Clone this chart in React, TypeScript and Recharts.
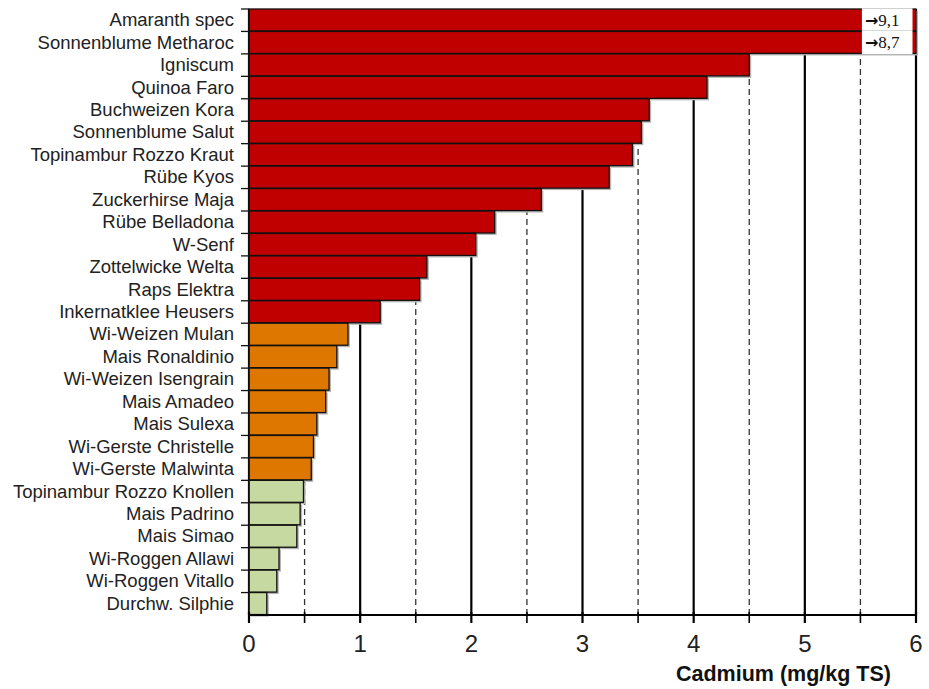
import { Bar, BarChart, CartesianGrid, XAxis, YAxis } from "recharts";

// Cd-Gehalte je Kultur/Sorte (mg/kg TS), sortiert absteigend.
const CATEGORIES = [
  "Amaranth spec",
  "Sonnenblume Metharoc",
  "Igniscum",
  "Quinoa Faro",
  "Buchweizen Kora",
  "Sonnenblume Salut",
  "Topinambur Rozzo Kraut",
  "Rübe Kyos",
  "Zuckerhirse Maja",
  "Rübe Belladona",
  "W-Senf",
  "Zottelwicke Welta",
  "Raps Elektra",
  "Inkernatklee Heusers",
  "Wi-Weizen Mulan",
  "Mais Ronaldinio",
  "Wi-Weizen Isengrain",
  "Mais Amadeo",
  "Mais Sulexa",
  "Wi-Gerste Christelle",
  "Wi-Gerste Malwinta",
  "Topinambur Rozzo Knollen",
  "Mais Padrino",
  "Mais Simao",
  "Wi-Roggen Allawi",
  "Wi-Roggen Vitallo",
  "Durchw. Silphie",
];

const VALUES = [
  9.1, 8.7, 4.5, 4.12, 3.6, 3.53, 3.45, 3.24, 2.63, 2.21, 2.04, 1.6, 1.535, 1.18,
  0.89, 0.79, 0.72, 0.69, 0.61, 0.58, 0.56,
  0.49, 0.46, 0.43, 0.27, 0.25, 0.16,
];

const GROUPS = [
  "high", "high", "high", "high", "high", "high", "high",
  "high", "high", "high", "high", "high", "high", "high",
  "mid", "mid", "mid", "mid", "mid", "mid", "mid",
  "low", "low", "low", "low", "low", "low",
];

const X_TICKS = [0, 0.5, 1, 1.5, 2, 2.5, 3, 3.5, 4, 4.5, 5, 5.5, 6];
const X_MAX = 6;
const BREAK_AT = 5.5;
const X_TITLE = "Cadmium (mg/kg TS)";

const COLOR: Record<string, string> = {
  high: "#c00000",
  mid: "#dd7700",
  low: "#c6d9a0",
};

const W = 929;
const H = 689;
const MARGIN = { top: 9, right: 13, bottom: 0, left: 0 };
const X_AXIS_H = 74;
const BAND = (H - MARGIN.top - MARGIN.bottom - X_AXIS_H) / CATEGORIES.length;

const data = CATEGORIES.map((name, i) => ({
  name,
  value: Math.min(VALUES[i], X_MAX),
  raw: VALUES[i],
  group: GROUPS[i],
}));

const fmt = (v: number) => String(v).replace(".", ",");

function BarShape(props: any) {
  const { x, y, width, height, payload } = props;
  const fill = COLOR[payload.group];
  const over = payload.raw > X_MAX;
  const unit = width / payload.value;
  const bx = x + BREAK_AT * unit + 1.5;
  const bw = (X_MAX - BREAK_AT) * unit - 5;
  return (
    <g>
      <rect x={x + 2} y={y + 2} width={width} height={height} fill="#b5b5b5" />
      <rect x={x} y={y} width={width} height={height} fill={fill} stroke="#111" strokeWidth={1.3} />
      {over && (
        <>
          <rect x={bx} y={y - 0.7} width={bw} height={height + 1.4} fill="#fff" />
          <text x={bx + 3} y={y + height / 2 + 6} fontSize={17} fill="#111">
            <tspan fontFamily="'DejaVu Sans', sans-serif" fontWeight="bold" fontSize={16}>
              →
            </tspan>
            <tspan fontFamily="'Liberation Serif', serif">{fmt(payload.raw)}</tspan>
          </text>
        </>
      )}
    </g>
  );
}

function YTick(props: any) {
  const { x, y, payload } = props;
  return (
    <g>
      <line x1={x - 8} x2={x} y1={y - BAND / 2} y2={y - BAND / 2} stroke="#111" strokeWidth={1.3} />
      <text x={x - 15} y={y + 6} textAnchor="end" fontSize={18.5} fill="#222">
        {payload.value}
      </text>
    </g>
  );
}

function XTick(props: any) {
  const { x, y, payload } = props;
  const whole = Number.isInteger(payload.value);
  return (
    <g>
      <line x1={x} x2={x} y1={y - 3} y2={y + 8} stroke="#000" strokeWidth={whole ? 2.2 : 1.6} />
      {whole && (
        <text x={x} y={y + 37} textAnchor="middle" fontSize={24} fill="#222">
          {payload.value}
        </text>
      )}
    </g>
  );
}

function GridLine(p: any) {
  const i = p.index ?? 0;
  const whole = Number.isInteger(X_TICKS[i]);
  return (
    <line
      key={p.key}
      x1={p.x1}
      x2={p.x2}
      y1={p.y1}
      y2={p.y2}
      stroke={whole ? "#000" : "#333"}
      strokeWidth={whole ? 2.2 : 1.3}
      strokeDasharray={whole ? undefined : "6 4"}
    />
  );
}

export default function App() {
  return (
    <div style={{ position: "absolute", left: 0, top: 0, fontFamily: "'Liberation Sans', Arial, sans-serif" }}>
      <BarChart width={W} height={H} data={data} layout="vertical" margin={MARGIN} barCategoryGap={0}>
        <CartesianGrid horizontal={false} vertical={GridLine} />
        <XAxis
          type="number"
          domain={[0, X_MAX]}
          ticks={X_TICKS}
          interval={0}
          height={X_AXIS_H}
          tickSize={0}
          tickMargin={0}
          tickLine={false}
          axisLine={{ stroke: "#000", strokeWidth: 2.2 }}
          tick={XTick}
          label={{
            content: ({ viewBox }: any) => (
              <text
                x={viewBox.x + viewBox.width - 25}
                y={viewBox.y + viewBox.height - 8}
                textAnchor="end"
                fontSize={21.5}
                fontWeight="bold"
                fill="#111"
              >
                {X_TITLE}
              </text>
            ),
          }}
        />
        <YAxis
          type="category"
          dataKey="name"
          width={249}
          interval={0}
          tickSize={0}
          tickMargin={0}
          tickLine={false}
          axisLine={{ stroke: "#111", strokeWidth: 1.3 }}
          tick={YTick}
        />
        <Bar dataKey="value" shape={BarShape} isAnimationActive={false} />
      </BarChart>
    </div>
  );
}
